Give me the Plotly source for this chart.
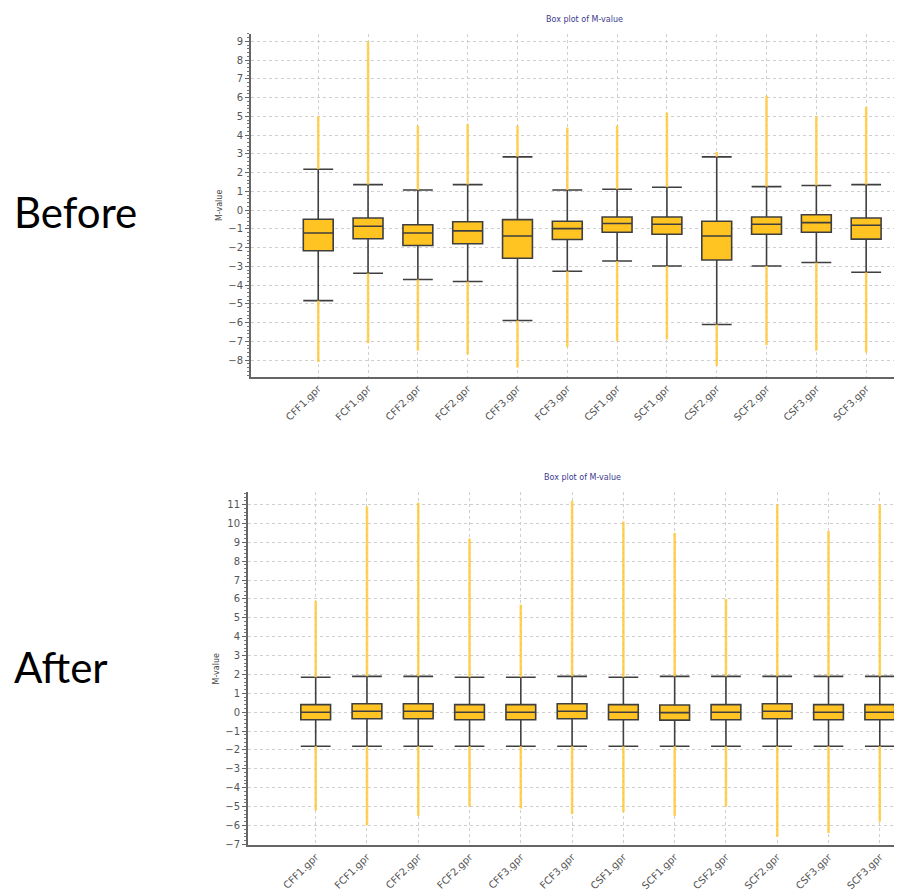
import plotly.graph_objects as go

categories = ["CFF1.gpr", "FCF1.gpr", "CFF2.gpr", "FCF2.gpr", "CFF3.gpr", "FCF3.gpr",
              "CSF1.gpr", "SCF1.gpr", "CSF2.gpr", "SCF2.gpr", "CSF3.gpr", "SCF3.gpr"]

# Before normalisation
before_q1 = [-2.17, -1.53, -1.89, -1.80, -2.57, -1.57, -1.18, -1.29, -2.66, -1.29, -1.18, -1.55]
before_median = [-1.22, -0.86, -1.22, -1.11, -1.38, -0.99, -0.72, -0.76, -1.38, -0.76, -0.67, -0.81]
before_q3 = [-0.49, -0.42, -0.78, -0.62, -0.51, -0.60, -0.37, -0.37, -0.60, -0.37, -0.25, -0.42]
before_low_whisker = [-4.83, -3.37, -3.70, -3.81, -5.89, -3.26, -2.72, -2.98, -6.10, -2.98, -2.80, -3.32]
before_up_whisker = [2.18, 1.36, 1.07, 1.36, 2.84, 1.07, 1.11, 1.22, 2.84, 1.25, 1.31, 1.36]
before_out_max = [5.0, 9.0, 4.5, 4.6, 4.5, 4.4, 4.5, 5.2, 3.1, 6.1, 5.0, 5.5]
before_out_min = [-8.1, -7.1, -7.5, -7.7, -8.4, -7.3, -7.0, -6.9, -8.3, -7.2, -7.5, -7.6]

# After normalisation
after_q1 = [-0.40, -0.35, -0.35, -0.40, -0.40, -0.35, -0.40, -0.42, -0.40, -0.35, -0.40, -0.40]
after_median = [0.0, 0.05, 0.05, 0.0, 0.0, 0.05, 0.0, -0.02, 0.0, 0.05, 0.0, 0.0]
after_q3 = [0.40, 0.45, 0.45, 0.40, 0.40, 0.45, 0.40, 0.38, 0.40, 0.45, 0.40, 0.40]
after_low_whisker = [-1.80, -1.80, -1.80, -1.80, -1.80, -1.80, -1.80, -1.80, -1.80, -1.80, -1.80, -1.80]
after_up_whisker = [1.85, 1.90, 1.90, 1.85, 1.85, 1.90, 1.85, 1.90, 1.90, 1.90, 1.90, 1.90]
after_out_max = [5.9, 10.9, 11.1, 9.2, 5.7, 11.2, 10.1, 9.5, 6.0, 11.0, 9.6, 11.0]
after_out_min = [-5.2, -6.0, -5.5, -5.0, -5.1, -5.4, -5.3, -5.5, -5.0, -6.6, -6.4, -5.8]

BOX_FILL = "#FFC423"
BOX_LINE = "#3f3f3f"
OUT_COL = "#FFC93A"
GRID = "#cfcfcf"
TICKFONT = dict(family="DejaVu Sans", size=10, color="#555555")

fig = go.Figure()


def add_panel(xa, ya, q1, med, q3, lw, uw, omax, omin, width):
    xs, ys = [], []
    for i, c in enumerate(categories):
        xs += [c, c, None, c, c, None]
        ys += [uw[i], omax[i], None, lw[i], omin[i], None]
    fig.add_trace(go.Scatter(x=xs, y=ys, mode="lines", xaxis=xa, yaxis=ya,
                             line=dict(color=OUT_COL, width=2.5), opacity=0.85,
                             showlegend=False, hoverinfo="skip"))
    fig.add_trace(go.Box(x=categories, q1=q1, median=med, q3=q3,
                         lowerfence=lw, upperfence=uw, xaxis=xa, yaxis=ya,
                         fillcolor=BOX_FILL, line=dict(color=BOX_LINE, width=1.6),
                         whiskerwidth=1, width=width, boxpoints=False,
                         showlegend=False))


add_panel("x", "y", before_q1, before_median, before_q3, before_low_whisker,
          before_up_whisker, before_out_max, before_out_min, 0.6)
add_panel("x2", "y2", after_q1, after_median, after_q3, after_low_whisker,
          after_up_whisker, after_out_max, after_out_min, 0.58)

H = 896.0
W = 902.0

xcommon = dict(type="category", categoryorder="array", categoryarray=categories,
               showgrid=True, gridcolor=GRID, griddash="dot", gridwidth=1,
               tickangle=-45, tickfont=TICKFONT, showline=True,
               linecolor="#666666", linewidth=2, zeroline=False, ticks="")
ycommon = dict(showgrid=True, gridcolor=GRID, griddash="dot", gridwidth=1,
               dtick=1, tickfont=TICKFONT, showline=True, linecolor="#666666",
               linewidth=2, zeroline=False, ticks="outside", ticklen=4,
               tickcolor="#666666",
               minor=dict(ticks="outside", dtick=0.2, ticklen=2, tickcolor="#777777",
                          showgrid=False),
               title=dict(text="M-value", font=dict(family="DejaVu Sans", size=8, color="#444444"),
                          standoff=4))

fig.update_layout(
    width=902, height=896,
    margin=dict(l=0, r=0, t=0, b=0),
    paper_bgcolor="white", plot_bgcolor="white",
    xaxis=dict(xcommon, domain=[243 / W, 900 / W], range=[-1.35, 11.84], anchor="y"),
    yaxis=dict(ycommon, domain=[1 - 371 / H, 1 - 26 / H], range=[-8.9, 9.4], anchor="x"),
    xaxis2=dict(xcommon, domain=[240 / W, 900 / W], range=[-1.32, 11.55], anchor="y2"),
    yaxis2=dict(ycommon, domain=[1 - 842 / H, 1 - 487 / H], range=[-7.05, 11.65], anchor="x2"),
    annotations=[
        dict(text="Box plot of M-value", x=576 / W, y=1 - 12 / H, xref="paper", yref="paper",
             yanchor="middle", showarrow=False,
             font=dict(family="DejaVu Sans", size=8, color="#3b3b8f")),
        dict(text="Box plot of M-value", x=574 / W, y=1 - 472 / H, xref="paper", yref="paper",
             yanchor="middle", showarrow=False,
             font=dict(family="DejaVu Sans", size=8, color="#3b3b8f")),
        dict(text="Before", x=4 / W, y=1 - 205 / H, xref="paper", yref="paper",
             xanchor="left", yanchor="middle", showarrow=False,
             font=dict(family="Lato", size=42, color="black")),
        dict(text="After", x=4 / W, y=1 - 663 / H, xref="paper", yref="paper",
             xanchor="left", yanchor="middle", showarrow=False,
             font=dict(family="Lato", size=42, color="black")),
    ],
)

fig.write_html("out.html")
